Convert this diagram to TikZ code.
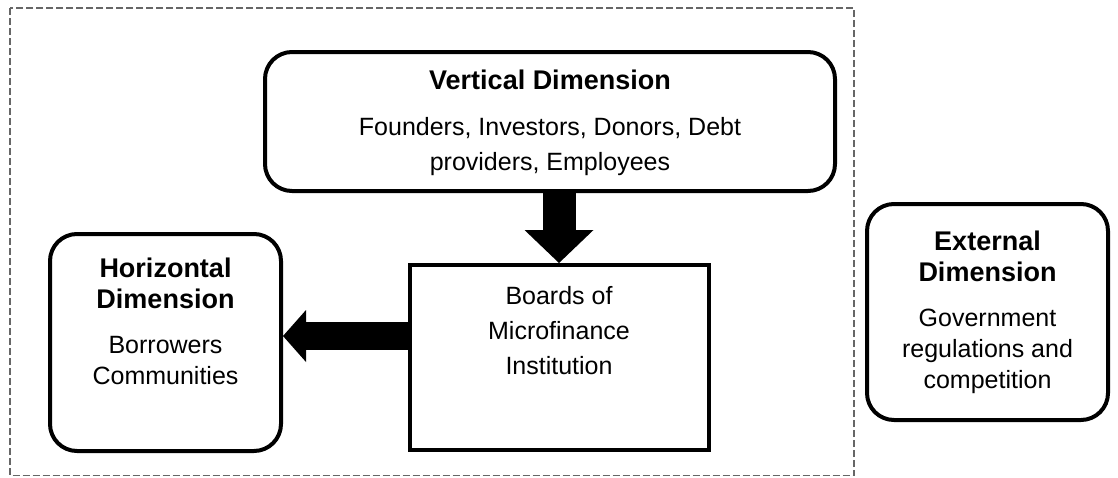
\documentclass[tikz,border=0pt]{standalone}
\usepackage{fontspec}
\setmainfont{Liberation Sans}
\usetikzlibrary{arrows.meta, positioning}

% bold heading inside a dimension box
\newcommand{\dimhead}[1]{{\bfseries\fontsize{27}{30}\selectfont #1}}

\begin{document}
\begin{tikzpicture}[x=1pt, y=-1pt,
  dimbox/.style={draw, line width=4pt, rounded corners=27pt, inner sep=0pt,
    align=center, font=\fontsize{25}{31}\selectfont},
  boardbox/.style={dimbox, rounded corners=0pt, font=\fontsize{25}{35}\selectfont},
  fatarrow/.style n args={3}{line width=#1, line cap=butt,
    -{Triangle[width=#2, length=#3, line width=0pt]}},
  frame/.style={draw=black!60, line width=1.5pt, dash pattern=on 7pt off 3pt}]
  \useasboundingbox (0,0) rectangle (1118,477);

  % Dashed frame round the institution
  \draw[frame] (10,8) rectangle (854,475.5);

  % Boxes
  \node[dimbox, font=\fontsize{25}{35}\selectfont, minimum width=570pt,
    minimum height=139pt, text depth=2pt] (vert) at (550,121.5)
    {\dimhead{Vertical Dimension}\\[11pt]
     Founders, Investors, Donors, Debt\\ providers, Employees};
  \node[boardbox, minimum width=299pt, minimum height=185pt, text depth=55pt]
    (board) at (559,357.5) {Boards of\\ Microfinance\\ Institution};
  \node[dimbox, minimum width=231pt, minimum height=217pt, text depth=43pt]
    (horiz) at (165.5,342.5)
    {\dimhead{Horizontal}\\ \dimhead{Dimension}\\[14pt] Borrowers\\ Communities};
  \node[dimbox, minimum width=241pt, minimum height=216pt] (ext) at (987.5,312)
    {\dimhead{External}\\ \dimhead{Dimension}\\[14pt]
     Government\\ regulations and\\ competition};

  % Block arrows
  \draw[fatarrow={33pt}{69pt}{33pt}] (vert.south -| board.north) -- (board.north);
  \coordinate (armstart) at ([yshift=21.5pt]board.west);
  \draw[fatarrow={28pt}{52pt}{23pt}] (armstart) -- (armstart -| horiz.east);
\end{tikzpicture}
\end{document}
